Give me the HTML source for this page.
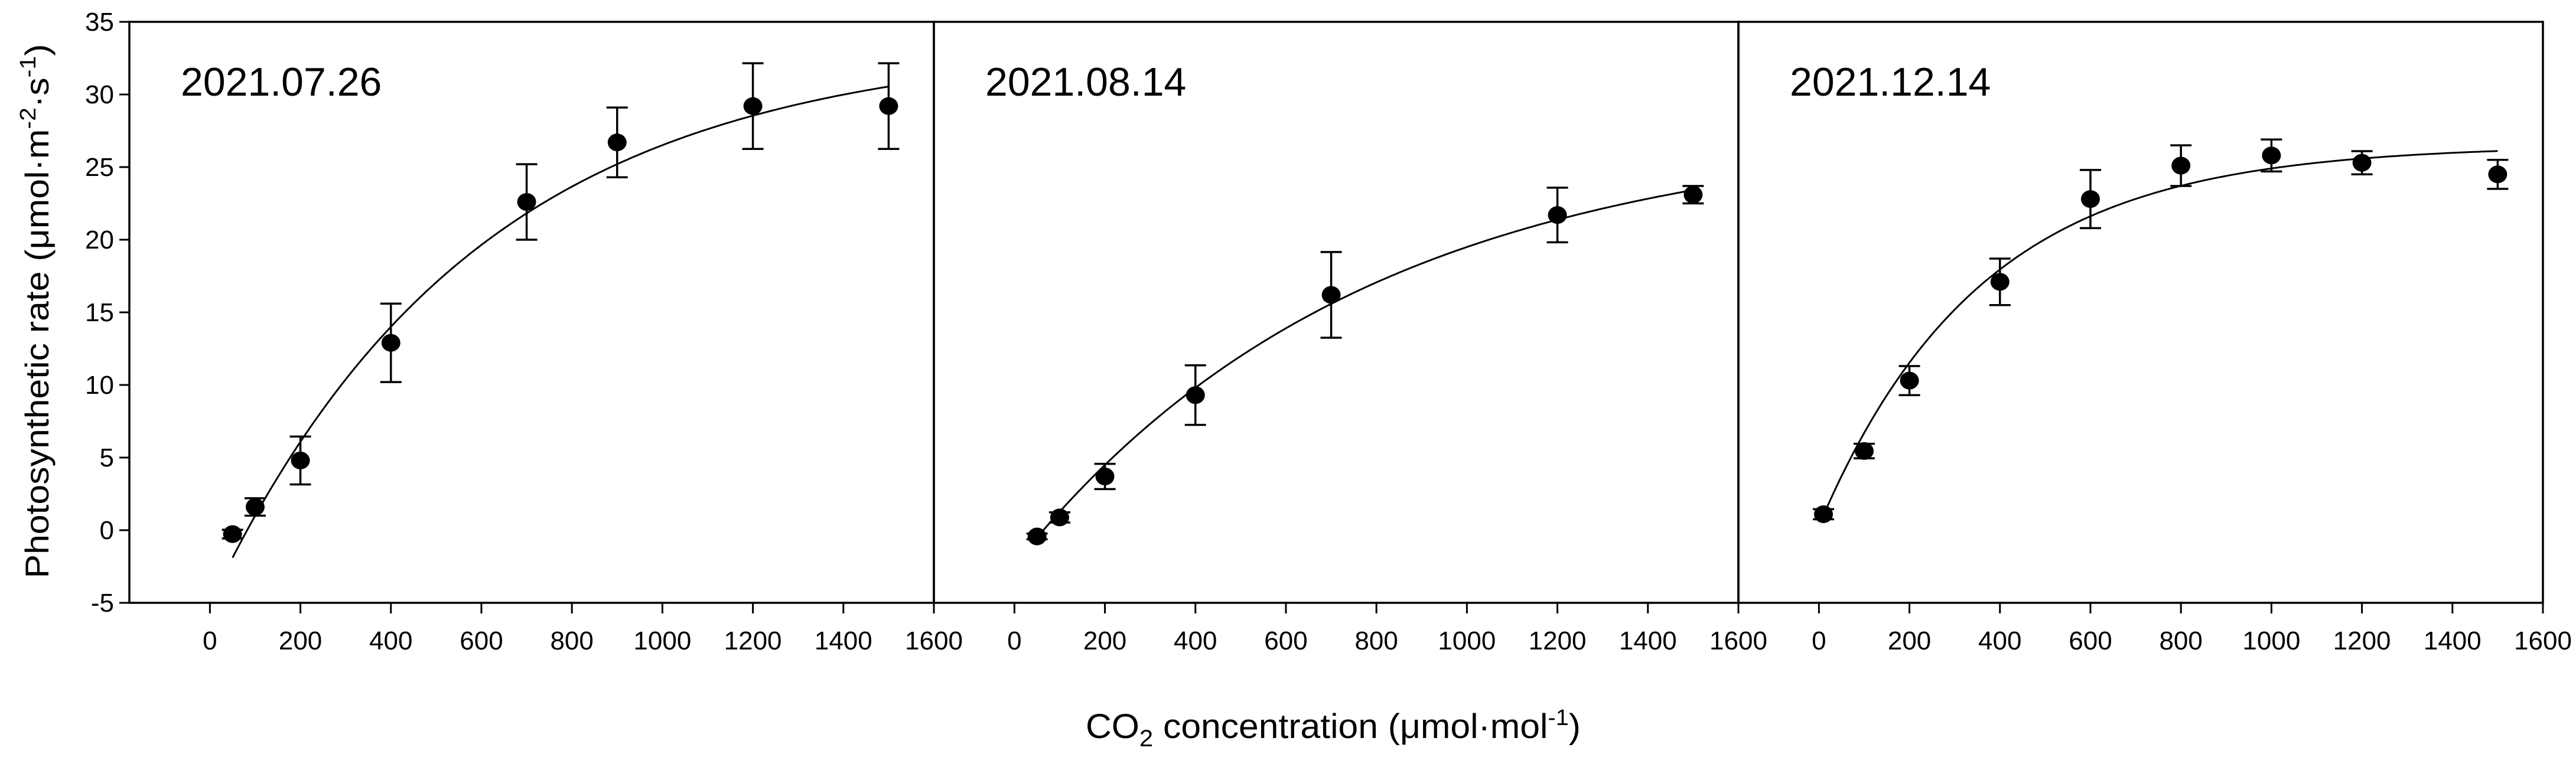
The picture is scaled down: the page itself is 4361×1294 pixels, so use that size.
<!DOCTYPE html>
<html><head><meta charset="utf-8"><style>
html,body{margin:0;padding:0;background:#fff;}
svg{display:block;font-family:"Liberation Sans",Arial,sans-serif;}
</style></head><body>
<svg id="chart" width="4361" height="1294" viewBox="0 0 4361 1294" xmlns="http://www.w3.org/2000/svg">
<text transform="translate(82,527) rotate(-90)" text-anchor="middle" font-size="56" textLength="905" lengthAdjust="spacingAndGlyphs">Photosynthetic rate (μmol·m<tspan dy="-22" font-size="38">-2</tspan><tspan dy="22">·s</tspan><tspan dy="-22" font-size="38">-1</tspan><tspan dy="22">)</tspan></text>
<text x="2257" y="1250" text-anchor="middle" font-size="58" textLength="838" lengthAdjust="spacingAndGlyphs">CO<tspan dy="14" font-size="40">2</tspan><tspan dy="-14"> concentration (μmol·mol</tspan><tspan dy="-22" font-size="38">-1</tspan><tspan dy="22">)</tspan></text>
</svg>
<script>
const panelLabels = ["2021.07.26", "2021.08.14", "2021.12.14"];
const xP1 = [50, 100, 200, 400, 700, 900, 1200, 1500];
const yP1 = [-0.27, 1.6, 4.8, 12.9, 22.6, 26.7, 29.2, 29.2];
const eP1 = [0.3, 0.6, 1.65, 2.7, 2.6, 2.4, 2.95, 2.95];
const xP2 = [50, 100, 200, 400, 700, 1200, 1500];
const yP2 = [-0.43, 0.88, 3.7, 9.3, 16.2, 21.7, 23.1];
const eP2 = [0.2, 0.35, 0.87, 2.05, 2.95, 1.88, 0.6];
const xP3 = [10, 100, 200, 400, 600, 800, 1000, 1200, 1500];
const yP3 = [1.1, 5.45, 10.3, 17.1, 22.8, 25.1, 25.8, 25.3, 24.5];
const eP3 = [0.35, 0.5, 1.0, 1.6, 2.0, 1.4, 1.1, 0.8, 1.0];
// fitted curve parameters: y = A - B*exp(-k*x), over [start, end]
const fitA = [33.56, 27.7, 26.5];
const fitB = [38.6, 30.1, 26.2];
const fitK = [0.0017, 0.0013, 0.0028];
const fitStart = [50, 50, 10];
const fitEnd = [1500, 1500, 1500];
const xTicks = [0, 200, 400, 600, 800, 1000, 1200, 1400, 1600];
const yTicks = [-5, 0, 5, 10, 15, 20, 25, 30, 35];

const NS = "http://www.w3.org/2000/svg";
const svg = document.getElementById("chart");
const panelLeft = [219, 1581, 2943];
const W = 1362, TOP = 37, BOT = 1021;
const XMIN = -178, XMAX = 1600, YMIN = -5, YMAX = 35;
function mk(tag, attrs, parent) {
  const e = document.createElementNS(NS, tag);
  for (const k in attrs) e.setAttribute(k, attrs[k]);
  (parent || svg).appendChild(e);
  return e;
}
function yS(v) { return BOT - (v - YMIN) / (YMAX - YMIN) * (BOT - TOP); }
const series = [[xP1, yP1, eP1], [xP2, yP2, eP2], [xP3, yP3, eP3]];

for (let p = 0; p < 3; p++) {
  const L = panelLeft[p];
  const xS = v => L + (v - XMIN) / (XMAX - XMIN) * W;
  const g = mk("g", {});
  
  
  const frame = mk("rect", {x: L, y: TOP, width: W, height: BOT - TOP, fill: "none", stroke: "#000", "stroke-width": 3.5}, g);
  
  
  xTicks.forEach(t => {
    const tk = mk("line", {x1: xS(t), x2: xS(t), y1: BOT, y2: BOT + 18, stroke: "#000", "stroke-width": 3}, g);
    
    
    const lb = mk("text", {x: xS(t), y: 1100, "text-anchor": "middle", "font-size": 44}, g);
    
    
    lb.textContent = t;
  });
  if (p === 0) {
    yTicks.forEach(t => {
      const tk = mk("line", {x1: L - 17, x2: L, y1: yS(t), y2: yS(t), stroke: "#000", "stroke-width": 3}, g);
      
      
      const lb = mk("text", {x: L - 26, y: yS(t) + 15, "text-anchor": "end", "font-size": 44}, g);
      
      
      lb.textContent = t;
    });
  }
  const title = mk("text", {x: L + 87, y: 162, "font-size": 68}, g);
  
  
  title.textContent = panelLabels[p];
  let d = "";
  for (let i = 0; i <= 200; i++) {
    const x = fitStart[p] + (fitEnd[p] - fitStart[p]) * i / 200;
    const y = fitA[p] - fitB[p] * Math.exp(-fitK[p] * x);
    d += (i ? "L" : "M") + xS(x).toFixed(1) + "," + yS(y).toFixed(1);
  }
  const c = mk("path", {d: d, fill: "none", stroke: "#000", "stroke-width": 3}, g);
  
  
  const [xs, ys, es] = series[p];
  xs.forEach((xv, i) => {
    const cx = xS(xv), top = yS(ys[i] + es[i]), bot = yS(ys[i] - es[i]);
    const eb = mk("path", {d: `M${cx},${top}V${bot}M${cx - 18},${top}H${cx + 18}M${cx - 18},${bot}H${cx + 18}`, stroke: "#000", "stroke-width": 3.5, fill: "none"}, g);
    
    
    const pt = mk("ellipse", {cx: cx, cy: yS(ys[i]), rx: 16, ry: 15, fill: "#000"}, g);
    
    
  });
}
</script>
</body></html>
